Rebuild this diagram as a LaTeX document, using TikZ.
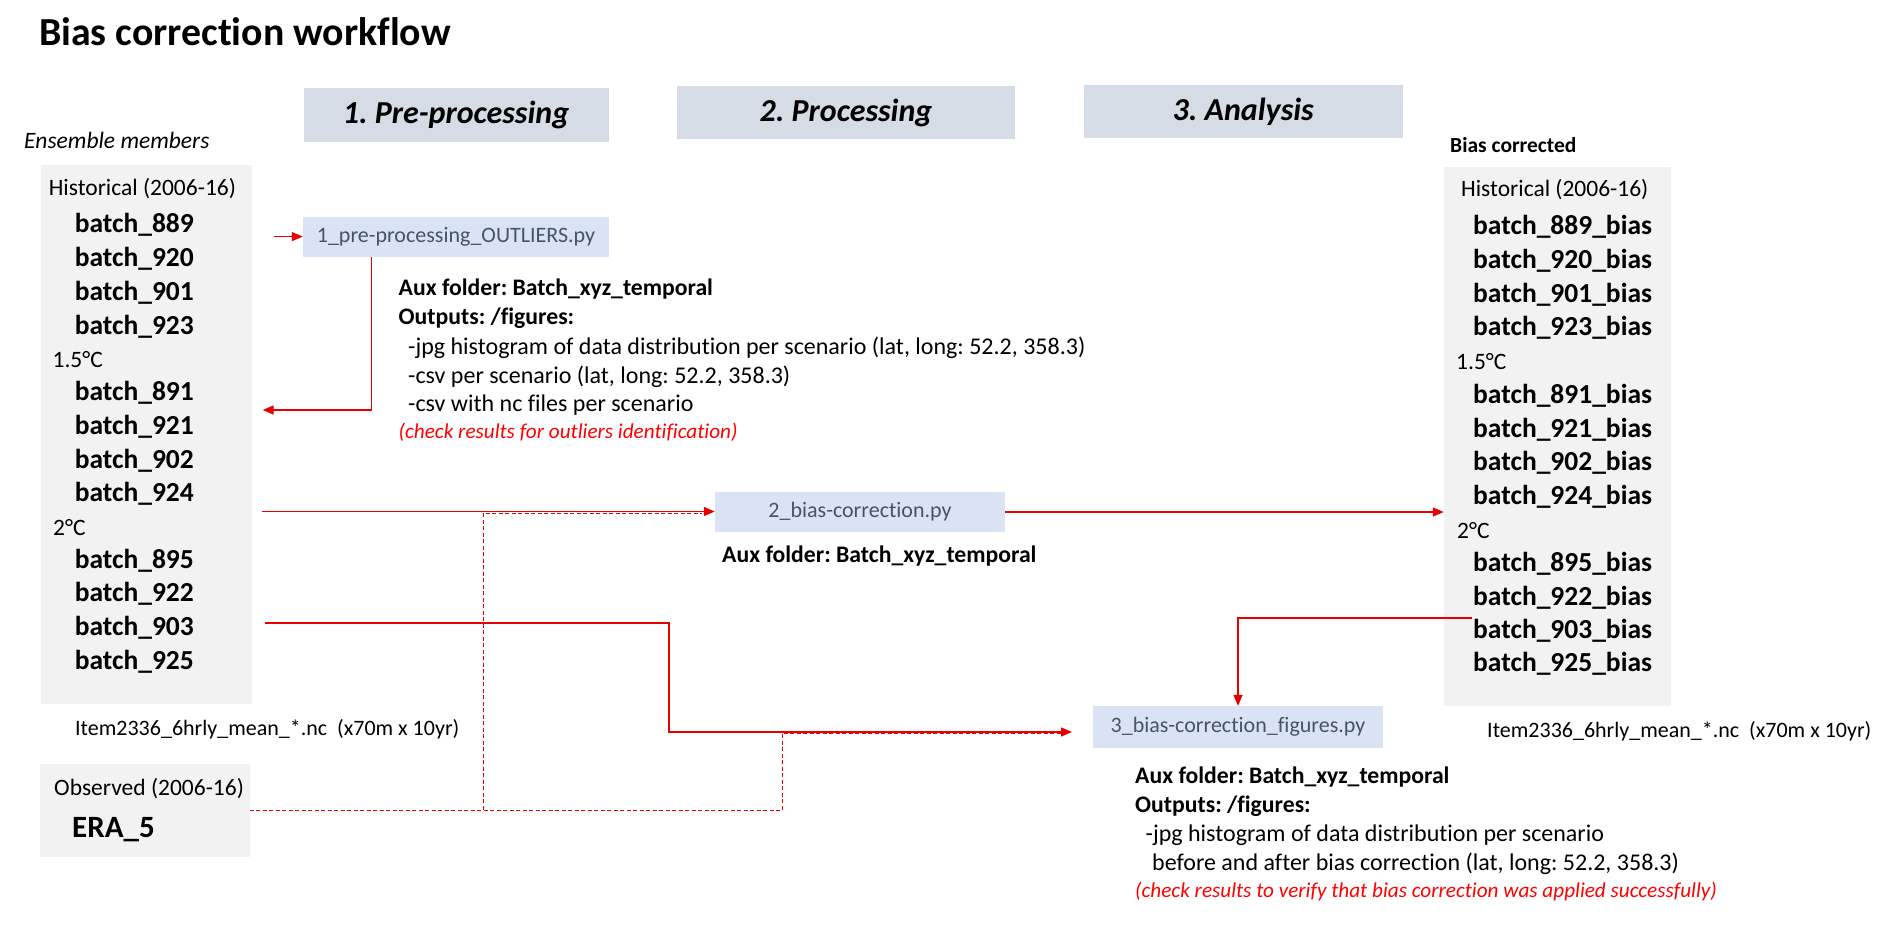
\documentclass[tikz,border=0pt]{standalone}
\usepackage{fontspec}
\setmainfont{Carlito}[Ligatures={NoCommon,NoContextual}]
\usetikzlibrary{arrows.meta}
\definecolor{phasebg}{HTML}{D6DCE5}
\definecolor{scriptbg}{HTML}{DAE3F3}
\definecolor{graybg}{HTML}{F2F2F2}
\definecolor{scripttxt}{HTML}{44546A}
\definecolor{linered}{RGB}{230,0,0}
\newcommand\myfs[1]{\fontsize{#1pt}{#1pt}\selectfont}
\frenchspacing
\begin{document}
\begin{tikzpicture}[x=1pt,y=-1pt,
 txt/.style={inner sep=0pt, anchor=base west},
 reg/.style={txt, font=\myfs{23.5}},
 treg/.style={txt, font=\myfs{24}},
 bld/.style={txt, font=\myfs{23.7}\bfseries},
 itm/.style={txt, font=\myfs{27.5}\bfseries},
 redit/.style={txt, font=\myfs{21.2}\itshape, text=red},
 phase/.style={fill=phasebg, inner sep=0pt, font=\myfs{32}\bfseries\itshape},
 script/.style={fill=scriptbg, inner sep=0pt, font=\myfs{22}, text=scripttxt},
 grp/.style={fill=graybg, inner sep=0pt},
 arr/.style={draw=linered, line width=1.3pt, -{Triangle[length=11pt,width=9pt]}},
 dsh/.style={draw=linered, line width=0.9pt, dash pattern=on 4pt off 2.5pt},
]
\useasboundingbox (0,0) rectangle (1891,929);
\fill[white] (0,0) rectangle (1891,929);

% grey group boxes
\node[grp, minimum width=210.5pt, minimum height=539pt] (lbox) at (146.25,434.5) {};
\node[grp, minimum width=226.5pt, minimum height=539pt] (rbox) at (1557.25,436.5) {};
\node[grp, minimum width=209.5pt, minimum height=93pt] (obs) at (144.75,810.5) {};

% title
\node[txt, font=\myfs{39.8}\bfseries] (title) at (39,45) {Bias correction workflow};

% phases
\node[phase, minimum width=305pt, minimum height=54pt] (p1) at (456,115) {1. Pre-processing};
\node[phase, minimum width=338pt, minimum height=53pt] (p2) at (846,112.5) {2. Processing};
\node[phase, minimum width=318.5pt, minimum height=53pt] (p3) at (1243.25,111.5) {3. Analysis};

% left list
\node[txt, font=\myfs{23.5}\itshape] (ens) at (24,148) {Ensemble members};
\node[reg] (lhist) at (48.6,195) {Historical (2006-16)};
\node[itm] (l889) at (74.6,232.4) {batch\_889};
\node[itm] (l920) at (74.6,266.4) {batch\_920};
\node[itm] (l901) at (74.6,300.4) {batch\_901};
\node[itm] (l923) at (74.6,334) {batch\_923};
\node[reg] (l15) at (52.4,367) {1.5°C};
\node[itm] (l891) at (74.6,400.4) {batch\_891};
\node[itm] (l921) at (74.6,434.4) {batch\_921};
\node[itm] (l902) at (74.6,468) {batch\_902};
\node[itm] (l924) at (74.6,501.4) {batch\_924};
\node[reg] (l2) at (53,535) {2°C};
\node[itm] (l895) at (74.6,568.4) {batch\_895};
\node[itm] (l922) at (74.6,601.4) {batch\_922};
\node[itm] (l903) at (74.6,635.4) {batch\_903};
\node[itm] (l925) at (74.6,669.4) {batch\_925};
\node[txt, font=\myfs{22}] (litem) at (75,735.5) {Item2336\_6hrly\_mean\_*.nc\ \ (x70m x 10yr)};

% observed
\node[reg] (obsl) at (54,795) {Observed (2006-16)};
\node[txt, font=\myfs{31}\bfseries] (era) at (72,837) {ERA\_5};

% right list
\node[txt, font=\myfs{21.5}\bfseries] (bc) at (1450,152) {Bias corrected};
\node[reg] (rhist) at (1461,196) {Historical (2006-16)};
\node[itm] (r889) at (1473,234.4) {batch\_889\_bias};
\node[itm] (r920) at (1473,268.4) {batch\_920\_bias};
\node[itm] (r901) at (1473,302) {batch\_901\_bias};
\node[itm] (r923) at (1473,335.4) {batch\_923\_bias};
\node[reg] (r15) at (1456,369) {1.5°C};
\node[itm] (r891) at (1473,403.4) {batch\_891\_bias};
\node[itm] (r921) at (1473,437) {batch\_921\_bias};
\node[itm] (r902) at (1473,470.4) {batch\_902\_bias};
\node[itm] (r924) at (1473,504.4) {batch\_924\_bias};
\node[reg] (r2) at (1457,538) {2°C};
\node[itm] (r895) at (1473,571.4) {batch\_895\_bias};
\node[itm] (r922) at (1473,605.4) {batch\_922\_bias};
\node[itm] (r903) at (1473,638.4) {batch\_903\_bias};
\node[itm] (r925) at (1473,671.4) {batch\_925\_bias};
\node[txt, font=\myfs{22}] (ritem) at (1487,737.5) {Item2336\_6hrly\_mean\_*.nc\ \ (x70m x 10yr)};

% scripts
\node[script, minimum width=306pt, minimum height=40pt] (s1) at (456,236.6) {1\_pre-processing\_OUTLIERS.py};
\node[script, minimum width=290pt, minimum height=40pt] (s2) at (860,512) {2\_bias-correction.py};
\node[script, minimum width=290pt, minimum height=42pt] (s3) at (1238,727) {3\_bias-correction\_figures.py};

% text block 1
\node[bld] (t1a) at (398.5,295) {Aux folder: Batch\_xyz\_temporal};
\node[bld] (t1b) at (398.5,324.5) {Outputs: /figures:};
\node[treg] (t1c) at (408,354) {-jpg histogram of data distribution per scenario (lat, long: 52.2, 358.3)};
\node[treg] (t1d) at (408,383) {-csv per scenario (lat, long: 52.2, 358.3)};
\node[treg] (t1e) at (408,411) {-csv with nc files per scenario};
\node[redit] (t1f) at (398.5,438) {(check results for outliers identification)};

% text block 2
\node[bld] (t2a) at (722,562) {Aux folder: Batch\_xyz\_temporal};

% text block 3
\node[bld] (t3a) at (1135,783) {Aux folder: Batch\_xyz\_temporal};
\node[bld] (t3b) at (1135,812) {Outputs: /figures:};
\node[treg] (t3c) at (1145.5,841) {-jpg histogram of data distribution per scenario};
\node[treg] (t3d) at (1152,870) {before and after bias correction (lat, long: 52.2, 358.3)};
\node[redit] (t3e) at (1135,897) {(check results to verify that bias correction was applied successfully)};

% dashed connectors from observed data
\coordinate (d1) at (483,513.5);
\coordinate (d1e) at (702,513.5);
\coordinate (d2) at (782,733.5);
\coordinate (d2e) at (1062,733.5);
\draw[dsh] (obs.east) -| (d1) -- (d1e);
\draw[dsh] (obs.east) -| (d2) -- (d2e);

% solid connectors
\coordinate (a1) at (274,236.6);
\draw[arr] (a1) -- (s1.west);
\coordinate (a2c) at (371.7,410);
\coordinate (a2e) at (262.7,410);
\draw[arr] (s1.south -| a2c) -- (a2c) -- (a2e);
\coordinate (a3) at (262,511.5);
\draw[arr] (a3) -- (a3 -| s2.west);
\draw[arr] (s2.east) -- (s2.east -| rbox.west);
\coordinate (a5s) at (265,623);
\coordinate (a5c) at (669,623);
\coordinate (a5e) at (1072,732);
\draw[arr] (a5s) -- (a5c) |- (a5e);
\coordinate (a6s) at (1472,618);
\draw[arr] (a6s) -| (s3.north);
\end{tikzpicture}
\end{document}
